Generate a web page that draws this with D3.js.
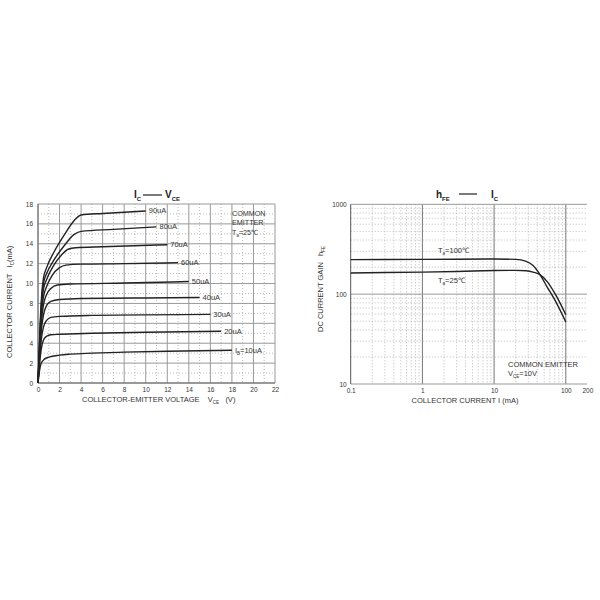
<!DOCTYPE html>
<html><head><meta charset="utf-8">
<script src="https://cdn.jsdelivr.net/npm/d3@7/dist/d3.min.js"></script>
<style>
html,body{margin:0;padding:0;background:#fff;}
svg{display:block;font-family:"Liberation Sans",Arial,sans-serif;}
svg text{white-space:pre;}
</style></head>
<body><svg id="c" width="600" height="600"></svg>
<script>
// ---------- Left chart data: IC vs VCE ----------
const vceTicks = [0,2,4,6,8,10,12,14,16,18,20,22];
const icTicks = [0,2,4,6,8,10,12,14,16,18];
const baseLabels = ["90uA","80uA","70uA","60uA","50uA","40uA","30uA","20uA","10uA"];
const ib90 = [[0,0],[0.2,6],[0.35,9],[0.5,10.5],[0.8,11.6],[1.5,13.2],[2.5,15],[3.4,16.4],[4,16.9],[6,17.05],[10,17.3]];
const ib80 = [[0,0],[0.2,5.5],[0.35,8.5],[0.5,10],[0.8,11],[1.5,12.4],[2.5,13.9],[3.3,14.9],[4,15.25],[7,15.45],[11,15.7]];
const ib70 = [[0,0],[0.2,5],[0.35,8],[0.5,9.4],[0.8,10.4],[1.5,11.9],[2.2,12.9],[2.8,13.45],[3.5,13.6],[6,13.7],[12,13.9]];
const ib60 = [[0,0],[0.2,4.5],[0.35,7.3],[0.5,8.6],[0.8,9.7],[1.3,10.8],[2,11.6],[2.6,11.85],[4,11.95],[8,12.0],[13,12.1]];
const ib50 = [[0,0],[0.2,4],[0.35,6.5],[0.5,7.8],[0.8,8.9],[1.2,9.5],[1.8,9.85],[3,9.95],[8,10.05],[14,10.2]];
const ib40 = [[0,0],[0.15,3],[0.3,5.2],[0.5,6.8],[0.8,7.8],[1.2,8.2],[2,8.4],[4,8.5],[10,8.55],[15,8.6]];
const ib30 = [[0,0],[0.15,2.5],[0.3,4.3],[0.5,5.6],[0.8,6.3],[1.2,6.6],[2,6.7],[5,6.8],[10,6.85],[16,6.9]];
const ib20 = [[0,0],[0.15,2.0],[0.3,3.4],[0.5,4.3],[0.8,4.7],[1.2,4.85],[2,4.9],[5,5.0],[10,5.1],[17,5.2]];
const ib10 = [[0,0],[0.15,1.3],[0.3,2.0],[0.6,2.4],[1,2.6],[2,2.8],[3,2.9],[5,3.0],[8,3.1],[12,3.2],[18,3.3]];
const leftCurves = [ib90,ib80,ib70,ib60,ib50,ib40,ib30,ib20,ib10];

// ---------- Right chart data: hFE vs IC ----------
const icLogTicks = [0.1,1,10,100,200];
const icLogTickLabels = ["0.1","1","10","100","200"];
const hfeTicks = [10,100,1000];
const icPoints = [0.1,0.3,1,3,10,20,28,35,43,55,74,100];
const hfe100 = [242,243,244,245,246,244,232,208,168,120,80,49];
const hfe25 = [172,174,176,179,183,184,182,176,166,138,95,59];
const rightLabels = ["100℃","25℃"];

const svg = d3.select("#c");
const ink = "#222";
const txt = "#333";

// ===== LEFT CHART =====
const L = {x0:38, x1:275, y0:204, y1:383};
const xL = d3.scaleLinear().domain([0,22]).range([L.x0,L.x1]);
const yL = d3.scaleLinear().domain([0,18]).range([L.y1,L.y0]);
const gL = svg.append("g");
// minor dotted grid
d3.range(1,22,2).forEach(v=>gL.append("line").attr("x1",xL(v)).attr("x2",xL(v)).attr("y1",L.y0).attr("y2",L.y1)
  .attr("stroke","#aaa").attr("stroke-width",0.8).attr("stroke-dasharray","1,2"));
d3.range(1,18,2).forEach(v=>gL.append("line").attr("y1",yL(v)).attr("y2",yL(v)).attr("x1",L.x0).attr("x2",L.x1)
  .attr("stroke","#aaa").attr("stroke-width",0.8).attr("stroke-dasharray","1,2"));
// major grid
vceTicks.forEach(v=>gL.append("line").attr("x1",xL(v)).attr("x2",xL(v)).attr("y1",L.y0).attr("y2",L.y1)
  .attr("stroke","#999").attr("stroke-width",1));
icTicks.forEach(v=>gL.append("line").attr("y1",yL(v)).attr("y2",yL(v)).attr("x1",L.x0).attr("x2",L.x1)
  .attr("stroke","#999").attr("stroke-width",1));
gL.append("line").attr("x1",L.x0).attr("x2",L.x0).attr("y1",L.y0).attr("y2",L.y1).attr("stroke","#666");
gL.append("line").attr("x1",L.x0).attr("x2",L.x1).attr("y1",L.y1).attr("y2",L.y1).attr("stroke","#666");
// axes tick labels
const axL = d3.axisBottom(xL).tickValues(vceTicks).tickSize(0).tickPadding(4);
gL.append("g").attr("transform",`translate(0,${L.y1})`).call(axL)
  .call(g=>{g.select(".domain").remove();g.selectAll("text").attr("font-size",6.5).attr("fill",txt).attr("font-family","Liberation Sans");});
const ayL = d3.axisLeft(yL).tickValues(icTicks).tickSize(0).tickPadding(5);
gL.append("g").attr("transform",`translate(${L.x0},0)`).call(ayL)
  .call(g=>{g.select(".domain").remove();g.selectAll("text").attr("font-size",6.5).attr("fill",txt).attr("font-family","Liberation Sans");});
// curves
const lineL = d3.line().x(d=>xL(d[0])).y(d=>yL(d[1])).curve(d3.curveMonotoneX);
leftCurves.forEach((c,i)=>{
  gL.append("path").attr("d",lineL(c)).attr("fill","none").attr("stroke",ink).attr("stroke-width",1.4);
  const e = c[c.length-1];
  const t = gL.append("text").attr("x",xL(e[0])+3).attr("y",yL(e[1])+2.5).attr("font-size",7.5).attr("fill",txt);
  if(baseLabels[i]==="10uA"){
    t.append("tspan").text("I");
    t.append("tspan").attr("font-size",4.5).attr("dy",2).text("B");
    t.append("tspan").attr("dy",-2).text("=10uA");
  } else t.text(baseLabels[i]);
});
// note
gL.append("text").attr("x",232).attr("y",216).attr("font-size",7.2).attr("fill",txt).text("COMMON");
gL.append("text").attr("x",232).attr("y",225).attr("font-size",7.2).attr("fill",txt).text("EMITTER");
const tnote = gL.append("text").attr("x",232).attr("y",234.5).attr("font-size",7.2).attr("fill",txt);
tnote.append("tspan").text("T");tnote.append("tspan").attr("font-size",4.5).attr("dy",2).text("a");
tnote.append("tspan").attr("dy",-2).text("=25℃");
// title
const tL = gL.append("text").attr("x",134).attr("y",198).attr("font-size",10).attr("font-weight","bold").attr("fill",ink);
tL.append("tspan").text("I");tL.append("tspan").attr("font-size",6).attr("dy",3).text("C");
gL.append("line").attr("x1",143).attr("x2",162).attr("y1",195).attr("y2",195).attr("stroke",ink).attr("stroke-width",1.2);
const tL2 = gL.append("text").attr("x",165).attr("y",198).attr("font-size",10).attr("font-weight","bold").attr("fill",ink);
tL2.append("tspan").text("V");tL2.append("tspan").attr("font-size",6).attr("dy",3).text("CE");
// axis titles
const xtL = gL.append("text").attr("x",82).attr("y",402).attr("font-size",7.5).attr("fill",txt);
xtL.append("tspan").text("COLLECTOR-EMITTER VOLTAGE    V");
xtL.append("tspan").attr("font-size",4.5).attr("dy",2).text("CE");
xtL.append("tspan").attr("dy",-2).text("   (V)");
const ytL = gL.append("text").attr("transform","translate(12,358) rotate(-90)").attr("font-size",7.5).attr("fill",txt);
ytL.append("tspan").text("COLLECTOR CURRENT   I");
ytL.append("tspan").attr("font-size",4.5).attr("dy",2).text("C");
ytL.append("tspan").attr("dy",-2).text("(mA)");

// ===== RIGHT CHART =====
const R = {x0:350.7, x1:587, y0:204.3, y1:384};
const xR = d3.scaleLog().domain([0.1,200]).range([R.x0, R.x0 + 71.7*Math.log10(2000)]);
const yR = d3.scaleLog().domain([10,1000]).range([R.y1,R.y0]);
const gR = svg.append("g");
// minor dotted grid
[0.1,1,10,100].forEach(dec=>{
  for(let k=2;k<=9;k++){const v=dec*k; if(v>=200) continue;
    gR.append("line").attr("x1",xR(v)).attr("x2",xR(v)).attr("y1",R.y0).attr("y2",R.y1)
      .attr("stroke","#aaa").attr("stroke-width",0.8).attr("stroke-dasharray","1,2");}
});
[10,100].forEach(dec=>{
  for(let k=2;k<=9;k++){const v=dec*k;
    gR.append("line").attr("y1",yR(v)).attr("y2",yR(v)).attr("x1",R.x0).attr("x2",R.x1)
      .attr("stroke","#aaa").attr("stroke-width",0.8).attr("stroke-dasharray","1,2");}
});
// major grid
[1,10,100].forEach(v=>gR.append("line").attr("x1",xR(v)).attr("x2",xR(v)).attr("y1",R.y0).attr("y2",R.y1)
  .attr("stroke","#777").attr("stroke-width",1));
hfeTicks.forEach(v=>gR.append("line").attr("y1",yR(v)).attr("y2",yR(v)).attr("x1",R.x0).attr("x2",R.x1)
  .attr("stroke","#999").attr("stroke-width",1));
gR.append("line").attr("x1",R.x0).attr("x2",R.x0).attr("y1",R.y0).attr("y2",R.y1).attr("stroke","#555");
// tick labels
const axR = d3.axisBottom(xR).tickValues(icLogTicks).tickFormat((d,i)=>icLogTickLabels[i]).tickSize(0).tickPadding(4);
gR.append("g").attr("transform",`translate(0,${R.y1})`).call(axR)
  .call(g=>{g.select(".domain").remove();g.selectAll("text").attr("font-size",6.5).attr("fill",txt).attr("font-family","Liberation Sans");});
const ayR = d3.axisLeft(yR).tickValues(hfeTicks).tickFormat(d3.format("d")).tickSize(0).tickPadding(4);
gR.append("g").attr("transform",`translate(${R.x0},0)`).call(ayR)
  .call(g=>{g.select(".domain").remove();g.selectAll("text").attr("font-size",6.5).attr("fill",txt).attr("font-family","Liberation Sans");});
// curves
const lineR = d3.line().x(d=>xR(d[0])).y(d=>yR(d[1])).curve(d3.curveMonotoneX);
[hfe100,hfe25].forEach(arr=>{
  gR.append("path").attr("d",lineR(icPoints.map((c,i)=>[c,arr[i]]))).attr("fill","none").attr("stroke",ink).attr("stroke-width",1.4);
});
[[rightLabels[0],253],[rightLabels[1],283]].forEach(([lab,y])=>{
  const t = gR.append("text").attr("x",438).attr("y",y).attr("font-size",7.5).attr("fill",txt);
  t.append("tspan").text("T");t.append("tspan").attr("font-size",4.5).attr("dy",2).text("a");
  t.append("tspan").attr("dy",-2).text("="+lab);
});
gR.append("text").attr("x",508).attr("y",367).attr("font-size",7.5).attr("fill",txt).text("COMMON EMITTER");
const tv = gR.append("text").attr("x",508).attr("y",376).attr("font-size",7.5).attr("fill",txt);
tv.append("tspan").text("V");tv.append("tspan").attr("font-size",4.5).attr("dy",2).text("CE");
tv.append("tspan").attr("dy",-2).text("=10V");
// title
const tR = gR.append("text").attr("x",436).attr("y",198).attr("font-size",10).attr("font-weight","bold").attr("fill",ink);
tR.append("tspan").text("h");tR.append("tspan").attr("font-size",6).attr("dy",3).text("FE");
gR.append("line").attr("x1",459).attr("x2",477).attr("y1",194).attr("y2",194).attr("stroke",ink).attr("stroke-width",1.2);
const tR2 = gR.append("text").attr("x",491).attr("y",198).attr("font-size",10).attr("font-weight","bold").attr("fill",ink);
tR2.append("tspan").text("I");tR2.append("tspan").attr("font-size",6).attr("dy",3).text("C");
// axis titles
gR.append("text").attr("x",465).attr("y",403).attr("text-anchor","middle").attr("font-size",7.5).attr("fill",txt)
  .text("COLLECTOR CURRENT I (mA)");
const ytR = gR.append("text").attr("transform","translate(323,332) rotate(-90)").attr("font-size",7.5).attr("fill",txt);
ytR.append("tspan").text("DC CURRENT GAIN   h");
ytR.append("tspan").attr("font-size",4.5).attr("dy",2).text("FE");
</script></body></html>
